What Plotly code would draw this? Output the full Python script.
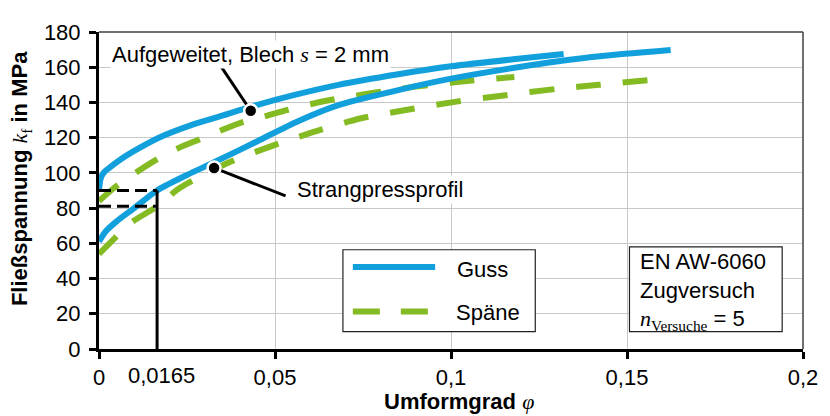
import plotly.graph_objects as go

# ---------------- data ----------------
phi_guss_auf = [0, 0.0005, 0.0015, 0.003, 0.006, 0.010, 0.017, 0.026, 0.035, 0.043,
                0.055, 0.068, 0.085, 0.100, 0.119, 0.132]
kf_guss_auf = [90, 97, 100.5, 103, 107.5, 112.5, 120, 127, 132.5, 137.5,
               144, 150, 156, 160.5, 164.8, 167.5]

phi_guss_str = [0, 0.002, 0.005, 0.010, 0.0165, 0.025, 0.0327, 0.045, 0.0567, 0.068,
                0.085, 0.100, 0.119, 0.140, 0.1624]
kf_guss_str = [61, 67, 72.5, 80, 90, 98.8, 106, 118, 129.5, 138.5,
               147, 153.5, 160, 165.8, 169.8]

phi_spaene_auf = [0, 0.004, 0.010, 0.015, 0.0214, 0.0285, 0.034, 0.041, 0.047, 0.053,
                  0.060, 0.066, 0.072, 0.079, 0.090, 0.101, 0.114, 0.118]
kf_spaene_auf = [84, 91, 99.5, 106, 113, 119, 123.6, 129, 132, 135.5,
                 139, 141.5, 143.5, 145.8, 149, 151.5, 153.8, 154.5]

phi_spaene_str = [0, 0.0045, 0.0093, 0.0165, 0.023, 0.037, 0.048, 0.0615, 0.0745, 0.088,
                  0.102, 0.115, 0.130, 0.142, 0.1577]
kf_spaene_str = [54, 63, 72, 81, 91.5, 106, 114.5, 123.6, 131, 136,
                 140.6, 144, 147.7, 150, 153]

phi_mark = 0.0165
kf_marks = [90, 81]

callout_phi = [0.0431, 0.0327]
callout_kf = [135.3, 102.8]
callout_text_phi = [0.0347, 0.0530]
callout_text_kf = [160.3, 87.0]

x_tickvals = [0, 0.05, 0.1, 0.15, 0.2]
x_ticktext = ["0", "0,05", "0,1", "0,15", "0,2"]
y_tickvals = [0, 20, 40, 60, 80, 100, 120, 140, 160, 180]

legend_names = ["Guss", "Späne"]
info_lines = ["EN AW-6060", "Zugversuch",
              "<span style=\"font-family:'Liberation Serif'\"><i>n</i><sub>Versuche</sub></span> = 5"]

# ---------------- style ----------------
BLUE = "#12a0dc"
GREEN = "#84bb22"
FONT = "Liberation Sans, Arial, sans-serif"
FS = 22
DASH = "25px,22px"

OFF = 8                       # page body margin
L, R, T, B = 99, 809, 20, 349  # plot area in page pixels
W, H = 830 - OFF, 416 - OFF


def px(xp):
    return (xp - L) / (R - L)


def py(yp):
    return (B - yp) / (B - T)


fig = go.Figure()

for phi, kf in [(phi_spaene_auf, kf_spaene_auf), (phi_spaene_str, kf_spaene_str)]:
    fig.add_trace(go.Scatter(x=phi, y=kf, mode="lines",
                             line=dict(color=GREEN, width=6, dash=DASH, shape="spline", smoothing=0.8),
                             showlegend=False, hoverinfo="skip"))
for phi, kf in [(phi_guss_auf, kf_guss_auf), (phi_guss_str, kf_guss_str)]:
    fig.add_trace(go.Scatter(x=phi, y=kf, mode="lines",
                             line=dict(color=BLUE, width=6, shape="spline", smoothing=0.8),
                             showlegend=False, hoverinfo="skip"))

# reference lines at phi = 0.0165
fig.add_trace(go.Scatter(x=[phi_mark, phi_mark], y=[0, kf_marks[0]], mode="lines",
                         line=dict(color="black", width=3), showlegend=False, hoverinfo="skip"))
for k in kf_marks:
    fig.add_trace(go.Scatter(x=[0, phi_mark], y=[k, k], mode="lines",
                             line=dict(color="black", width=3, dash="12px,6px"),
                             showlegend=False, hoverinfo="skip"))

# callout lines and dots
for i in range(2):
    fig.add_trace(go.Scatter(x=[callout_phi[i], callout_text_phi[i]], y=[callout_kf[i], callout_text_kf[i]],
                             mode="lines", line=dict(color="black", width=3),
                             showlegend=False, hoverinfo="skip"))
fig.add_trace(go.Scatter(x=callout_phi, y=callout_kf, mode="markers",
                         marker=dict(color="black", size=13, line=dict(color="white", width=2.5)),
                         showlegend=False, hoverinfo="skip"))

shapes = [
    # top/right frame
    dict(type="line", xref="paper", yref="paper", x0=0, x1=1, y0=1, y1=1, line=dict(color="#404040", width=1.5)),
    dict(type="line", xref="paper", yref="paper", x0=1, x1=1, y0=0, y1=1, line=dict(color="#404040", width=1.5)),
    # legend box
    dict(type="rect", xref="paper", yref="paper", x0=px(345), x1=px(539), y0=py(331), y1=py(246),
         line=dict(color="#222222", width=1.2), fillcolor="white"),
    dict(type="line", xref="paper", yref="paper", x0=px(355), x1=px(438), y0=py(264), y1=py(264),
         line=dict(color=BLUE, width=6)),
    dict(type="line", xref="paper", yref="paper", x0=px(355), x1=px(434), y0=py(310), y1=py(310),
         line=dict(color=GREEN, width=6, dash="27px,21px")),
    # info box
    dict(type="rect", xref="paper", yref="paper", x0=px(634), x1=px(788), y0=py(331), y1=py(243),
         line=dict(color="#222222", width=1.2), fillcolor="white"),
]

txt = dict(family=FONT, size=FS, color="black")
annotations = [
    dict(x=0.0431, y=167.5, xref="x", yref="y", xanchor="center", yanchor="middle",
         showarrow=False, bgcolor="white",
         text="Aufgeweitet, Blech <span style=\"font-family:'Liberation Serif'\"><i>s</i></span> = 2 mm",
         font=txt),
    dict(x=0.0558, y=90.8, xref="x", yref="y", xanchor="left", yanchor="middle",
         showarrow=False, bgcolor="white", text="Strangpressprofil", font=txt),
    dict(x=px(458), y=py(266), xref="paper", yref="paper", xanchor="left", yanchor="middle",
         showarrow=False, text=legend_names[0], font=txt),
    dict(x=px(457), y=py(311), xref="paper", yref="paper", xanchor="left", yanchor="middle",
         showarrow=False, text=legend_names[1], font=txt),
    dict(x=px(643), y=py(289), xref="paper", yref="paper", xanchor="left", yanchor="middle", align="left",
         showarrow=False, text="<br>".join(info_lines), font=txt),
    dict(x=phi_mark, y=py(377), xref="x", yref="paper", xanchor="center", yanchor="middle", xshift=4,
         showarrow=False, text="0,0165", font=txt),
    dict(x=px(462), y=py(404), xref="paper", yref="paper", xanchor="center", yanchor="middle",
         showarrow=False,
         text="<b>Umformgrad </b><span style=\"font-family:'Liberation Serif'\"><i>φ</i></span>",
         font=txt),
    dict(x=px(21), y=py(172), xref="paper", yref="paper", xanchor="center", yanchor="middle",
         showarrow=False, textangle=-90,
         text="<b>Fließspannung </b><span style=\"font-family:'Liberation Serif'\"><i>k</i><sub>f</sub></span><b> in MPa</b>",
         font=txt),
]

fig.update_layout(
    width=W, height=H,
    margin=dict(l=L - OFF, r=W - (R - OFF), t=T - OFF, b=H - (B - OFF), pad=0),
    paper_bgcolor="white", plot_bgcolor="white",
    font=txt,
    shapes=shapes, annotations=annotations,
    showlegend=False,
)
fig.update_xaxes(range=[0, 0.2], tickvals=x_tickvals, ticktext=x_ticktext,
                 showgrid=True, gridcolor="#c8c8c8", gridwidth=1,
                 showline=True, linecolor="black", linewidth=3,
                 ticks="outside", ticklen=7, tickwidth=3, tickcolor="black",
                 ticklabelstandoff=0, ticklabeloverflow="allow", zeroline=False)
fig.update_yaxes(range=[0, 180], tickvals=y_tickvals,
                 showgrid=True, gridcolor="#c8c8c8", gridwidth=1,
                 showline=True, linecolor="black", linewidth=3,
                 ticks="outside", ticklen=7, tickwidth=3, tickcolor="black",
                 ticklabelstandoff=4, ticklabeloverflow="allow", zeroline=False)

fig.write_html("out.html")
